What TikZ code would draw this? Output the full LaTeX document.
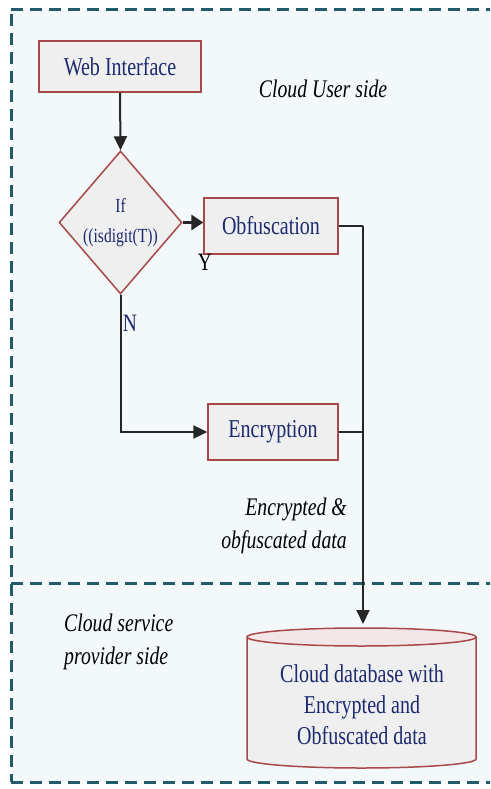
\documentclass[tikz,border=0pt]{standalone}
\usepackage{fontspec}
\setmainfont{Liberation Serif}[FakeStretch=0.78]
\usetikzlibrary{shapes.geometric,arrows.meta}
\definecolor{bordercol}{HTML}{245B6B}
\definecolor{bgcol}{HTML}{F3F8FB}
\definecolor{boxfill}{HTML}{EFEFEF}
\definecolor{boxdraw}{HTML}{A8484A}
\definecolor{txtcol}{HTML}{1C2A6E}
\definecolor{dbtopfill}{HTML}{F2E6E8}
\tikzset{
  procbox/.style={draw=boxdraw, fill=boxfill, line width=1.3pt, text=txtcol,
    font=\fontsize{25.7}{28}\selectfont, inner sep=0pt},
  decbox/.style={diamond, draw=boxdraw, fill=boxfill, line width=1.5pt, text=txtcol,
    font=\fontsize{20}{30}\selectfont, inner sep=0pt, align=center,
    minimum width=113pt, minimum height=143pt},
  sidelabel/.style={font=\fontsize{25.3}{33}\selectfont\itshape, inner sep=0pt},
  ynlabel/.style={font=\fontsize{25}{28}\selectfont, inner sep=0pt},
  conn/.style={line width=2pt, draw=black!85},
  thinconn/.style={line width=1.5pt, draw=black!85},
  arr/.style={conn, -{Triangle[length=14pt,width=13pt]}},
  zone/.style={draw=bordercol, line width=3pt, dash pattern=on 12pt off 7pt},
  dbline/.style={draw=boxdraw, line width=1.5pt}
}
\begin{document}
\begin{tikzpicture}[x=1pt,y=-1pt]
\useasboundingbox (0,0) rectangle (490,789);
\clip (0,0) rectangle (490,789);
\fill[white] (0,0) rectangle (490,789);
\fill[bgcol] (11,10) rectangle (495,782);
% zones
\draw[zone] (11,10) -- (495,10);
\draw[zone] (11,14) -- (11,782);
\draw[zone] (11,583) -- (495,583);
\draw[zone] (11,782) -- (495,782);

% nodes
\node[procbox, minimum width=162pt, minimum height=51pt] (web) at (120,66.5) {Web Interface};
\node[decbox] (dec) at (120.5,222.5) {If\\((isdigit(T))};
\node[procbox, minimum width=134pt, minimum height=56pt] (obf) at (271,226) {Obfuscation};
\node[procbox, minimum width=130pt, minimum height=56pt] (enc) at (273,432) {Encryption};

% database cylinder
\filldraw[dbline, fill=boxfill] (247,637) -- (247,759)
  arc[start angle=180, end angle=360, x radius=114.5pt, y radius=9pt] -- (476,637);
\filldraw[dbline, fill=dbtopfill] (361.5,637) ellipse[x radius=114.5pt, y radius=9pt];
\node[procbox, draw=none, fill=none, align=center, font=\fontsize{25.7}{31}\selectfont] (db) at (362,705)
  {Cloud database with\\Encrypted and\\Obfuscated data};
\coordinate (dbin) at (363,624);

% labels
\node[sidelabel] (cus) at (323,89) {Cloud User side};
\node[sidelabel, align=right, anchor=east] (edata) at (347,526) {Encrypted \&\\obfuscated data};
\node[sidelabel, align=left, anchor=west] (csp) at (64,642) {Cloud service\\provider side};
\node[ynlabel] (ylab) at (205,262) {Y};
\node[ynlabel, text=txtcol] (nlab) at (130,323) {N};

% connectors
\draw[arr] (web.south) -- (dec.north);
\draw[conn, line width=3pt, -{Triangle[length=12pt,width=15pt]}] (dec.east) -- (dec.east -| obf.west);
\draw[arr] (dec.south) |- (enc.west);
\draw[thinconn] (obf.east) -- (obf.east -| dbin);
\draw[thinconn] (enc.east) -- (enc.east -| dbin);
\draw[arr] (obf.east -| dbin) -- (dbin);
\end{tikzpicture}
\end{document}
